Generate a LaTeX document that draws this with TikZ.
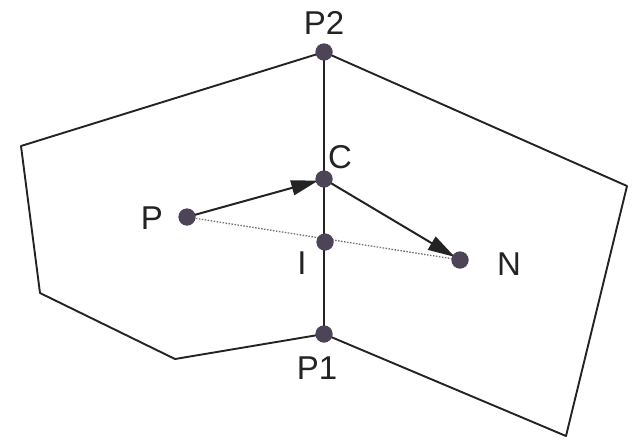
\documentclass[tikz,border=0pt]{standalone}
\usepackage{fontspec}
\setmainfont{Liberation Sans}
\usetikzlibrary{arrows.meta}
\definecolor{dotc}{RGB}{78,68,88}
\definecolor{ink}{RGB}{35,35,35}
\begin{document}
\begin{tikzpicture}[x=1pt,y=-1pt,
  dot/.style={circle,fill=dotc,inner sep=0pt,minimum size=17pt},
  lbl/.style={font=\fontsize{33}{33}\selectfont,text=ink,inner sep=0pt},
  edge/.style={line width=1.9pt,draw=ink,line join=round},
  vec/.style={line width=2pt,draw=ink,-{Triangle[length=27pt,width=15pt]},shorten >=6pt},
  dots/.style={line width=1.3pt,draw=black!55,dash pattern=on 1.5pt off 1.5pt}]
\useasboundingbox (0,0) rectangle (636,440);
\fill[white] (0,0) rectangle (636,440);
% corners
\coordinate (L1) at (21,146);
\coordinate (L2) at (40,293);
\coordinate (L3) at (175,359);
\coordinate (R1) at (627,186);
\coordinate (R2) at (566,436);
% dots
\node[dot] (P2) at (324,52) {};
\node[dot] (P1) at (324,334) {};
\node[dot] (C) at (324,179) {};
\node[dot] (I) at (325,242) {};
\node[dot] (P) at (187,217) {};
\node[dot] (N) at (460,260) {};
% planes
\draw[edge] (P2.center) -- (L1) -- (L2) -- (L3) -- (P1.center);
\draw[edge] (P2.center) -- (R1) -- (R2) -- (P1.center);
\draw[edge] (P2.center) -- (P1.center);
\draw[dots] (P.center) -- (N.center);
\draw[vec] (P.center) -- (C.center);
\draw[vec] (C.center) -- (N.center);
% redraw dots on top
\foreach \n in {P2,P1,C,I,P,N}{\fill[dotc] (\n) circle (8.5pt);}
% labels
\node[lbl] (tP2) at (324,23) {P2};
\node[lbl] (tP1) at (317,368) {P1};
\node[lbl] (tC) at (340,157) {C};
\node[lbl] (tP) at (152,218) {P};
\node[lbl] (tI) at (302,263) {I};
\node[lbl] (tN) at (509,264) {N};
\end{tikzpicture}
\end{document}
